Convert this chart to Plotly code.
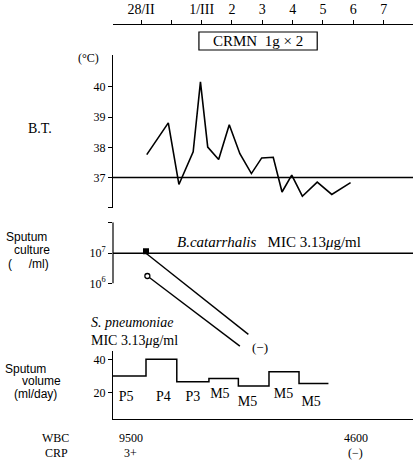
import numpy as np
import plotly.graph_objects as go

W, H = 413, 469
SERIF = "Liberation Serif, Times New Roman, serif"
SANS = "Liberation Sans, Arial, sans-serif"

# ---- date axis (day index: 0 = 28/II, 1 = 29/II, 2 = 1/III ...)
day_ticks = [0, 1, 2, 3, 4, 5, 6, 7, 8]
day_labels = ["28/II", "", "1/III", "2", "3", "4", "5", "6", "7"]

# ---- antibiotic course
crmn_label = "CRMN  1g × 2"
crmn_start, crmn_end = 1.91, 5.81

# ---- body temperature (°C)
bt_day = [0.19, 0.90, 1.25, 1.72, 1.96, 2.20, 2.56, 2.91, 3.26, 3.64,
          3.98, 4.36, 4.65, 4.97, 5.32, 5.81, 6.29, 6.91]
bt_temp = [37.76, 38.81, 36.77, 37.85, 40.17, 38.01, 37.60, 38.75, 37.79, 37.13,
           37.65, 37.67, 36.52, 37.08, 36.38, 36.85, 36.44, 36.83]
bt_ticks = [36, 37, 38, 39, 40]
bt_ticklabels = ["", "37", "38", "39", "40"]

# ---- sputum culture (organisms/ml), falling to negative
bcat_day = [0.165, 3.54]
bcat_count = [1e7, 2e4]
spn_day = [0.21, 3.26]
spn_count = [1.75e6, 8.1e3]

# ---- sputum volume (ml/day) with Miller-Jones grade
vol_edges = [-0.923, 0.165, 1.18, 2.24, 3.21, 4.22, 5.21, 6.18]
vol_ml = [30, 40, 26.5, 28.5, 24, 32.5, 25.5]
grade = ["P5", "P4", "P3", "M5", "M5", "M5", "M5"]
grade_day = [-0.49, 0.74, 1.71, 2.60, 3.51, 4.70, 5.61]
grade_ml = [16.8, 16.8, 16.8, 18.6, 13.8, 18.6, 13.8]

# ---- laboratory values
lab_day = [-0.33, 7.08]
wbc = ["9500", "4600"]
crp = ["3+", "(−)"]


def px(x):
    return x / W


def py(y):
    return 1 - y / H


X0 = 113 / W
x_range = [(113 - 141) / 30.33, (413 - 141) / 30.33]

fig = go.Figure()

# body temperature curve
fig.add_trace(go.Scatter(x=bt_day, y=bt_temp, mode="lines", xaxis="x", yaxis="y",
                         line=dict(color="black", width=1.6), hoverinfo="skip"))

# culture lines
bcat_log = np.log10(bcat_count)
spn_log = np.log10(spn_count)
fig.add_trace(go.Scatter(x=bcat_day, y=bcat_log, mode="lines", xaxis="x", yaxis="y2",
                         line=dict(color="black", width=1.4), hoverinfo="skip"))
fig.add_trace(go.Scatter(x=spn_day, y=spn_log, mode="lines", xaxis="x", yaxis="y2",
                         line=dict(color="black", width=1.4), hoverinfo="skip"))
fig.add_trace(go.Scatter(x=bcat_day[:1], y=bcat_log[:1] + 0.07, mode="markers", xaxis="x", yaxis="y2",
                         marker=dict(symbol="square", size=6, color="black"), hoverinfo="skip"))
fig.add_trace(go.Scatter(x=spn_day[:1], y=spn_log[:1], mode="markers", xaxis="x", yaxis="y2",
                         marker=dict(symbol="circle", size=5, color="white",
                                     line=dict(color="black", width=1.3)), hoverinfo="skip"))

# sputum volume step line
fig.add_trace(go.Scatter(x=vol_edges, y=vol_ml + [vol_ml[-1]], mode="lines", xaxis="x2", yaxis="y3",
                         line=dict(color="black", width=1.5, shape="hv"), hoverinfo="skip"))

# grade labels under the volume line
fig.add_trace(go.Scatter(x=grade_day, y=grade_ml, mode="text", text=grade, xaxis="x2", yaxis="y3",
                         textfont=dict(family=SERIF, size=14, color="black"), hoverinfo="skip"))

axis_common = dict(showgrid=False, zeroline=False, linecolor="black", linewidth=1.2,
                   tickcolor="black", ticklen=4, tickwidth=1.2, ticks="outside",
                   tickfont=dict(family=SERIF, size=12, color="black"))

fig.update_layout(
    width=W, height=H, margin=dict(l=0, r=0, t=0, b=0),
    paper_bgcolor="white", plot_bgcolor="white", showlegend=False,
    xaxis=dict(domain=[X0, 1], range=x_range, anchor="free", position=py(24), side="top",
               showline=True, tickvals=day_ticks, ticktext=day_labels,
               **{**axis_common, "tickfont": dict(family=SERIF, size=14, color="black")}),
    xaxis2=dict(domain=[X0, 1], matches="x", anchor="y3", showline=True, ticks="",
                showticklabels=False, showgrid=False, zeroline=False,
                linecolor="black", linewidth=1.2),
    yaxis=dict(domain=[py(207.7), py(55)], range=[36, 41.06], anchor="x", showline=True,
               tickvals=bt_ticks, ticktext=bt_ticklabels, **axis_common),
    yaxis2=dict(domain=[py(350), py(222.3)], range=[3.78, 8.03], anchor="x", showline=False,
                tickvals=[6, 7, 8.03], ticktext=["10<sup>6</sup>", "10<sup>7</sup>", ""],
                **axis_common),
    yaxis3=dict(domain=[py(419.3), py(350.7)], range=[4.0, 45.2], anchor="x2", showline=True,
                tickvals=[20, 40], **axis_common),
)

shapes = [
    # 37 °C reference line
    dict(type="line", xref="paper", yref="y", x0=X0, x1=1, y0=37, y1=37,
         line=dict(color="black", width=1.3)),
    # culture axis spine (10^6 to top)
    dict(type="line", xref="paper", yref="y2", x0=X0, x1=X0, y0=6, y1=8.03,
         line=dict(color="black", width=1.2)),
    # 10^7 reference line
    dict(type="line", xref="paper", yref="y2", x0=X0, x1=1, y0=7, y1=7,
         line=dict(color="black", width=1.3)),
    # CRMN administration box
    dict(type="rect", xref="x", yref="paper", x0=crmn_start, x1=crmn_end,
         y0=py(50), y1=py(32), line=dict(color="black", width=1.2)),
]
fig.update_layout(shapes=shapes)


def ann(text, x, y, size=13, family=SERIF, xanchor="center", xref="paper", yref="paper",
        align="center"):
    return dict(text=text, x=x, y=y, xref=xref, yref=yref, xanchor=xanchor, yanchor="middle",
                showarrow=False, align=align, font=dict(family=family, size=size, color="black"))


annotations = [
    ann(crmn_label, (crmn_start + crmn_end) / 2, py(41), size=15, xref="x"),
    ann("(°C)", px(88), py(58), size=12),
    ann("B.T.", px(40), py(128), size=14),
    ann("Sputum", px(26), py(237), size=12, family=SANS),
    ann("culture", px(31.5), py(250), size=12, family=SANS),
    ann("(     /ml)", px(28.5), py(264), size=12, family=SANS),
    ann("<i>B.catarrhalis</i>   MIC 3.13<i>μ</i>g/ml", px(175), py(242), size=15, xanchor="left"),
    ann("<i>S. pneumoniae</i><br>MIC 3.13<i>μ</i>g/ml", px(89), py(331), size=14,
        xanchor="left", align="left"),
    ann("(−)", px(260), py(347), size=13),
    ann("Sputum", px(25), py(369), size=12, family=SANS),
    ann("volume", px(41.5), py(381), size=12, family=SANS),
    ann("(ml/day)", px(35), py(393.5), size=12, family=SANS),
    ann("WBC", px(55), py(438), size=12),
    ann("CRP", px(56), py(453), size=12),
]
for d, w, c in zip(lab_day, wbc, crp):
    annotations.append(ann(w, d, py(438), size=12, xref="x"))
    annotations.append(ann(c, d, py(453), size=12, xref="x"))
fig.update_layout(annotations=annotations)

fig.write_html("out.html")
